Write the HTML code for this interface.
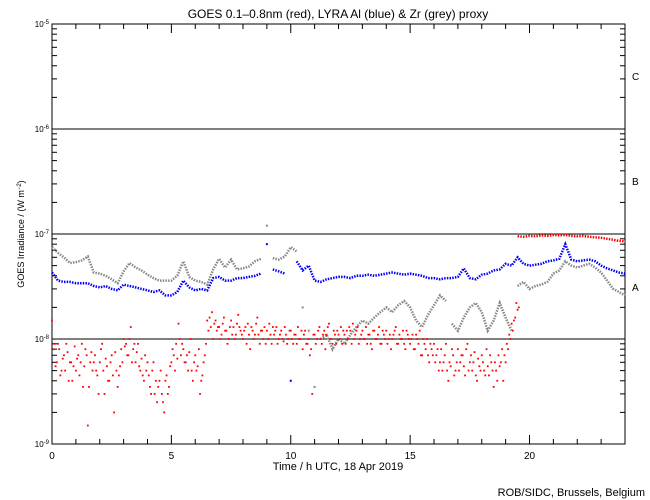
<!DOCTYPE html>
<html><head><meta charset="utf-8"><style>
body{margin:0;background:#fff}
svg{display:block;font-family:"Liberation Sans",sans-serif}
</style></head><body>
<svg id="c" width="650" height="500" viewBox="0 0 650 500">
<text x="338" y="18" font-size="12" text-anchor="middle">GOES 0.1–0.8nm (red), LYRA Al (blue) &amp; Zr (grey) proxy</text>
<text transform="translate(24,234) rotate(-90)" font-size="9" text-anchor="middle">GOES Irradiance / (W m<tspan dy="-3" font-size="6">−2</tspan><tspan dy="3">)</tspan></text>
<text x="338" y="470" font-size="11" text-anchor="middle">Time / h UTC, 18 Apr 2019</text>
<text x="645" y="496" font-size="11" text-anchor="end">ROB/SIDC, Brussels, Belgium</text>
<text x="632" y="80" font-size="10">C</text>
<text x="632" y="185" font-size="10">B</text>
<text x="632" y="291" font-size="10">A</text>
<g id="axes"></g>
<g id="series"></g>
</svg>
<script>
// values in units of 1e-8 W/m^2
const yExp = [-5,-6,-7,-8,-9];
const xTicks = [0,5,10,15,20];
const redStep = 0.1;
const redLow = [1.5,0.9,0.6,0.8,0.5,0.7,0.9,0.4,0.6,0.55,
0.5,0.7,0.6,0.35,0.8,0.15,0.6,0.5,0.7,0.45,
0.6,0.9,0.3,0.55,0.4,0.7,0.2,0.5,0.45,0.8,
1.0,0.9,0.7,1.3,0.8,0.6,0.9,0.5,0.45,0.7,
0.6,0.35,0.5,0.3,0.25,0.4,0.3,0.2,0.45,0.35,
0.6,0.7,0.9,1.4,0.7,0.8,0.6,0.5,1.0,0.4,
0.7,0.55,0.3,0.45,0.7,1.5,1.6,1.8,1.4,1.2,
1.3,1.1,1.6,1.2,1.0,1.5,1.3,1.1,1.7,1.2,
1.0,1.3,1.4,0.8,1.2,1.1,1.6,0.9,1.2,1.3,
1.2,1.4,0.9,1.1,1.3,1.0,1.2,0.95,1.1,1.0,
1.2,0.9,1.1,1.3,1.0,0.8,1.2,0.9,0.7,0.3,
1.1,1.0,1.3,0.9,1.2,1.1,1.4,1.0,1.2,0.9,
1.1,1.3,1.2,0.9,1.0,1.2,1.4,1.1,1.3,1.0,
1.2,1.0,0.9,1.1,0.8,1.2,1.0,1.3,0.9,1.1,
1.2,1.0,0.8,1.1,1.3,0.9,1.0,1.2,0.8,1.1,
0.9,1.1,0.8,1.0,1.2,0.7,0.9,1.0,0.6,0.8,
0.9,0.7,0.5,0.8,0.6,0.9,0.4,0.55,0.7,0.5,
0.8,0.6,0.7,0.45,0.9,0.6,0.5,0.75,0.4,0.55,
0.7,0.5,0.8,0.45,0.6,0.35,0.5,0.7,0.6,0.4,
0.6,0.8,1.0,1.2,1.6,1.9];
const redLow2 = [0.8,0.55,0.9,0.45,0.65,0.5,0.75,0.6,0.4,0.85,
0.65,0.45,0.9,0.55,0.7,0.35,0.75,0.6,0.5,0.3,
0.8,0.5,0.65,0.4,0.6,0.45,0.75,0.35,0.55,0.6,
0.85,0.7,1.0,0.6,0.9,0.75,0.55,0.65,0.4,0.5,
0.45,0.3,0.6,0.4,0.35,0.5,0.25,0.4,0.3,0.55,
0.8,0.5,0.65,1.0,0.9,0.6,0.7,0.75,0.5,0.6,
0.5,0.8,0.4,0.6,0.9,1.2,1.3,1.0,1.5,1.3,
1.0,1.4,1.2,0.9,1.3,1.1,1.0,1.4,1.3,1.1,
1.2,0.9,1.1,1.3,1.0,1.4,1.1,1.2,1.0,0.9,
1.0,1.1,1.3,1.2,0.9,1.1,1.0,1.3,0.9,1.2,
1.0,1.1,0.9,1.0,1.2,1.1,0.9,1.0,0.8,1.1,
0.9,1.2,1.0,1.1,0.8,1.3,1.0,0.9,1.1,1.2,
1.0,0.9,1.1,1.2,1.3,0.9,1.0,1.2,0.9,1.1,
1.0,1.3,1.1,0.9,1.2,1.0,1.1,0.9,1.2,1.0,
0.9,1.1,1.0,1.2,0.9,1.1,1.0,0.9,1.2,1.0,
1.0,0.8,1.1,0.9,0.7,1.0,0.8,0.7,0.9,0.7,
0.6,0.8,0.6,0.5,0.7,0.5,0.6,0.8,0.45,0.6,
0.5,0.7,0.55,0.8,0.5,0.7,0.6,0.45,0.65,0.5,
0.6,0.45,0.55,0.7,0.5,0.6,0.4,0.55,0.8,0.7,
0.9,1.1,1.4,1.5,2.2,2.0];
const redHighStart = 19.5;
const redHigh = [9.5,9.4,9.6,9.5,9.7,9.6,9.8,9.7,9.8,9.6,9.5,9.6,9.4,9.3,9.2,9.0,8.8,8.6,8.5];
const lineStep = 0.25;
const blue = [4.3,3.6,3.5,3.5,3.4,3.4,3.4,3.2,3.1,3.2,3.0,2.9,3.3,3.2,3.1,3.0,2.9,2.8,2.9,2.6,2.6,2.8,3.6,3.1,2.9,3.0,2.9,3.8,3.9,3.6,3.6,3.8,3.8,3.9,4.0,4.2,8.0,4.6,4.4,4.2,0.4,5.5,4.5,5.0,3.6,3.5,3.7,3.8,3.9,3.9,3.8,4.0,4.0,4.1,4.0,4.1,4.2,4.3,4.2,4.1,4.2,4.1,4.0,3.8,3.8,3.7,3.8,3.8,3.9,4.7,3.8,3.7,4.1,4.2,4.5,4.6,5.2,5.0,6.0,5.2,5.0,5.1,5.2,5.5,5.6,5.8,8.0,5.7,5.5,5.6,5.7,5.5,5.0,4.7,4.5,4.3,4.2];
const grey = [7.5,6.6,6.0,5.3,5.4,5.6,6.1,4.3,4.2,4.0,3.7,3.4,4.4,5.3,4.8,4.5,4.1,3.8,3.6,3.6,3.6,4.0,5.5,3.9,3.6,3.5,3.3,4.6,5.8,4.8,5.7,4.6,4.7,4.9,5.5,5.8,12,5.9,5.7,6.1,7.5,6.8,2.0,1.2,0.35,1.0,1.1,0.8,1.0,0.9,1.1,1.3,1.5,1.4,1.6,1.8,2.0,1.8,2.1,2.3,2.0,1.5,1.3,1.7,2.1,2.6,2.3,1.4,1.2,1.6,2.0,2.2,1.8,1.2,1.5,2.2,1.6,1.2,3.2,3.5,3.0,3.2,3.3,3.5,4.2,4.5,5.5,5.0,4.8,5.0,5.2,4.8,4.3,3.6,3.0,2.8,2.6];

const X0=52, X1=625, Y0=24, Y1=444;
const xs = h => X0 + h*(X1-X0)/24;
const ys = v => 339 - Math.log10(v)*105; // v in 1e-8 units
const yE = e => Y0 + (-5 - e)*105;
const NS="http://www.w3.org/2000/svg";
function mk(tag, attrs, parent){const el=document.createElementNS(NS,tag);for(const k in attrs)el.setAttribute(k,attrs[k]);parent.appendChild(el);return el;}
const axes=document.getElementById('axes'), ser=document.getElementById('series');

const frame=mk('rect',{x:X0,y:Y0,width:X1-X0,height:Y1-Y0,fill:'none',stroke:'#000','stroke-width':1},axes);


yExp.forEach(e=>{
  const y=yE(e);
  if(e<-5&&e>-9){
    const g=mk('line',{x1:X0,x2:X1,y1:y,y2:y,stroke:'#000','stroke-width':1},axes);
    
    
  }
  const t=mk('text',{x:X0-3,y:y+3,'font-size':8,'text-anchor':'end'},axes);
  
  
  t.innerHTML='10<tspan dy="-3" font-size="6">'+e+'</tspan>';
  if(e>-9){for(let m=2;m<=9;m++){const yy=y+105-Math.log10(m)*105;
    mk('line',{x1:X0,x2:X0+5,y1:yy,y2:yy,stroke:'#000'},axes);
    mk('line',{x1:X1-5,x2:X1,y1:yy,y2:yy,stroke:'#000'},axes);}}
});
for(let h=1;h<24;h++){const x=xs(h);const L=h%5===0?9:5;
  mk('line',{x1:x,x2:x,y1:Y1,y2:Y1-L,stroke:'#000'},axes);
  mk('line',{x1:x,x2:x,y1:Y0,y2:Y0+L,stroke:'#000'},axes);}
xTicks.forEach(h=>{const t=mk('text',{x:xs(h),y:Y1+15,'font-size':10,'text-anchor':'middle'},axes);t.textContent=h;
  
  });

function dotted(arr,step,start,color,name){
  // split into segments where jumps are large (points are sparse there)
  let seg=[];
  const flush=()=>{ if(seg.length>1){
      const p=mk('polyline',{points:seg.join(' '),fill:'none',stroke:color,'stroke-width':2.5,'stroke-dasharray':'1.5 1.2'},ser);
      
      
    } else if(seg.length===1){
      const [x,y]=seg[0].split(',');
      const r=mk('rect',{x:x-1,y:y-1,width:2,height:2,fill:color},ser);
      
      
    } seg=[]; };
  arr.forEach((v,i)=>{
    if(i>0 && Math.abs(Math.log10(v/arr[i-1]))>0.2) flush();
    seg.push(xs(start+i*step).toFixed(1)+','+ys(v).toFixed(1));
  });
  flush();
}
dotted(grey,lineStep,0,'#888','zr-grey-series');
dotted(blue,lineStep,0,'#0000ff','al-blue-series');
[redLow,redLow2].forEach((arr,k)=>arr.forEach((v,i)=>{
  const r=mk('rect',{x:xs(i*redStep+k*0.05)-0.9,y:ys(v)-0.9,width:1.8,height:1.8,fill:'#ff0000'},ser);
  
  
}));
dotted(redHigh,lineStep,redHighStart,'#ff0000','goes-red-high-series');
</script>
</body></html>
